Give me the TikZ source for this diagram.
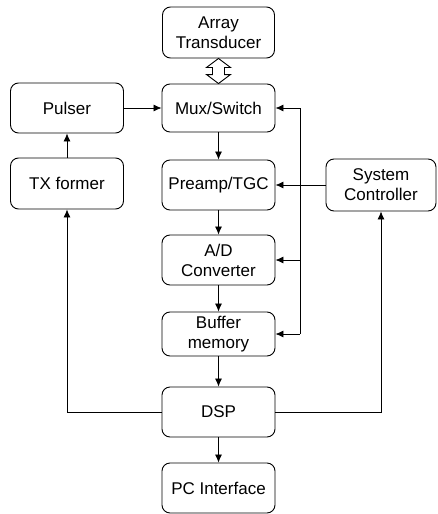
\documentclass[tikz,border=0pt]{standalone}
\usepackage{fontspec}
\setmainfont{Liberation Sans}
\usetikzlibrary{arrows.meta,calc}
\begin{document}
\begin{tikzpicture}[x=1pt,y=-1pt,
  blk/.style={draw,line width=0.9pt,rounded corners=8pt,minimum width=113pt,minimum height=50pt,align=center,inner sep=1pt,font=\fontsize{17}{20}\selectfont},
  conn/.style={line width=0.8pt,-{Latex[length=8pt,width=7pt]}},
  wire/.style={line width=0.8pt}]
\useasboundingbox (0,0) rectangle (437,514);
\node[blk,minimum width=112pt,minimum height=51pt] (arr) at (218.5,32.5) {Array\\Transducer};
\node[blk,minimum height=48pt] (mux) at (218.5,108) {Mux/Switch};
\node[blk] (pul) at (67,108) {Pulser};
\node[blk,minimum height=51pt] (tx) at (67,183.5) {TX former};
\node[blk] (pre) at (218.5,185) {Preamp/TGC};
\node[blk,minimum width=110pt,minimum height=52pt] (sys) at (381,185) {System\\Controller};
\node[blk] (ad) at (218.5,260) {A/D\\Converter};
\node[blk,minimum height=44pt] (buf) at (218.5,334) {Buffer\\memory};
\node[blk] (dsp) at (218.5,412) {DSP};
\node[blk] (pc) at (218.5,488) {PC Interface};
% hollow double arrow
\draw[line width=0.9pt,line join=miter]
  (arr.south) -- ($(arr.south)+(12,9)$) -- ($(arr.south)+(6,9)$)
  -- ($(mux.north)+(6,-9)$) -- ($(mux.north)+(12,-9)$) -- (mux.north)
  -- ($(mux.north)+(-12,-9)$) -- ($(mux.north)+(-6,-9)$)
  -- ($(arr.south)+(-6,9)$) -- ($(arr.south)+(-12,9)$) -- cycle;
% main chain
\draw[conn] (pul.east) -- (mux.west);
\draw[conn] (tx.north) -- (pul.south);
\draw[conn] (mux.south) -- (pre.north);
\draw[conn] (pre.south) -- (ad.north);
\draw[conn] (ad.south) -- (buf.north);
\draw[conn] (buf.south) -- (dsp.north);
\draw[conn] (dsp.south) -- (pc.north);
% system controller
\draw[conn] (sys.west) -- (pre.east);
% control bus
\coordinate (bx) at (300,0);
\coordinate (bt) at (mux.east -| bx);
\coordinate (bb) at (buf.east -| bx);
\draw[wire] (bt) -- (bb);
\draw[conn] (bt) -- (mux.east);
\draw[conn] (ad.east -| bx) -- (ad.east);
\draw[conn] (bb) -- (buf.east);
% DSP feedback
\draw[conn] (dsp.west) -| (tx.south);
\draw[conn] (dsp.east) -| (sys.south);
\end{tikzpicture}
\end{document}
